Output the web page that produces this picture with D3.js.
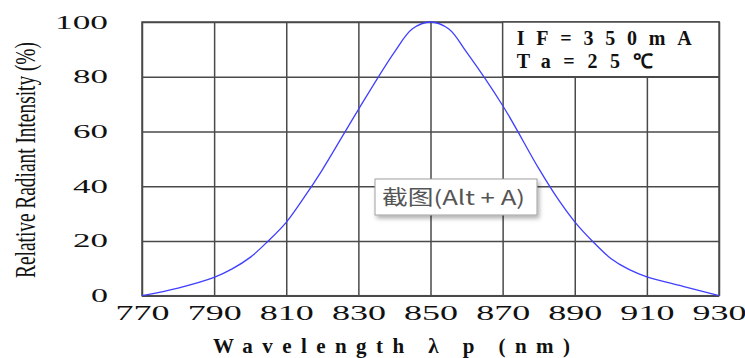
<!DOCTYPE html>
<html lang="en">
<head>
<meta charset="UTF-8">
<title>Relative Radiant Intensity</title>
<script src="https://d3js.org/d3.v7.min.js"></script>
<style>
    body { margin: 0; background: #fff; }
</style>
</head>
<body>
<div id="chart"></div>
<script>
    // wavelength (nm) and relative intensity (%)
    const wavelength = [770, 780, 790, 795, 800, 805, 810, 815, 820, 830, 840, 845, 850, 855, 860, 870, 880, 885, 890, 895, 900, 905, 910, 920, 930];
    const intensity = [0, 2.8, 6.7, 9.8, 14, 20, 26.8, 36, 46, 68, 89, 97.5, 100, 97.5, 89, 69.5, 46.5, 36, 27, 19.8, 13.6, 9.6, 6.9, 3.4, 0];
    const xTicks = [770, 790, 810, 830, 850, 870, 890, 910, 930];
    const yTicks = [0, 20, 40, 60, 80, 100];
    const noteLines = ["IF=350mA", "Ta=25℃"];
    const xTitle = "Wavelength λ p (nm)";
    const yTitle = "Relative Radiant Intensity (%)";
    const tipLabel = "截图(Alt + A)";

    const W = 745, H = 358;
    const margin = { top: 22, right: 26, bottom: 62.3, left: 142 };
    const width = W - margin.left - margin.right;
    const height = H - margin.top - margin.bottom;
    const gridColor = "#4a4a4a";
    const serif = "'Liberation Serif', 'Times New Roman', serif";

    const x = d3.scaleLinear().domain([770, 930]).range([0, width]);
    const y = d3.scaleLinear().domain([0, 100]).range([height, 0]);

    const root = d3.select("#chart").append("svg")
        .attr("width", W)
        .attr("height", H);

    const defs = root.append("defs");
    defs.append("filter").attr("id", "shadow")
        .attr("x", "-10%").attr("y", "-20%").attr("width", "130%").attr("height", "160%")
        .append("feDropShadow")
        .attr("dx", 2).attr("dy", 3).attr("stdDeviation", 2)
        .attr("flood-color", "#000").attr("flood-opacity", 0.3);

    const svg = root.append("g")
        .attr("transform", "translate(" + margin.left + "," + margin.top + ")");

    // grid lines come from the axes' ticks
    const xAxis = svg.append("g")
        .attr("transform", "translate(0," + height + ")")
        .call(d3.axisBottom(x).tickValues(xTicks).tickSize(-height).tickFormat(d3.format("d")));

    const yAxis = svg.append("g")
        .call(d3.axisLeft(y).tickValues(yTicks).tickSize(-width).tickFormat(d3.format("d")));

    [xAxis, yAxis].forEach(a => {
        a.select(".domain").remove();
        a.selectAll(".tick line").attr("stroke", gridColor).attr("stroke-width", 1.5);
        a.attr("font-family", serif).attr("fill", "#111");
    });

    xAxis.selectAll(".tick text")
        .attr("y", 24.3)
        .attr("dy", 0)
        .attr("fill", "#111")
        .attr("font-size", 21)
        .attr("textLength", d => String(d).length * 18)
        .attr("lengthAdjust", "spacingAndGlyphs");

    yAxis.selectAll(".tick text")
        .attr("x", -34)
        .attr("dy", 6)
        .attr("fill", "#111")
        .attr("font-size", 18)
        .attr("textLength", d => String(d).length * 18 - 1)
        .attr("lengthAdjust", "spacingAndGlyphs");

    // plot border
    svg.append("rect")
        .attr("width", width).attr("height", height)
        .attr("fill", "none")
        .attr("stroke", gridColor).attr("stroke-width", 1.5);

    // condition box over the top right cells (870-930, 80-100)
    svg.append("rect")
        .attr("x", x(870)).attr("y", y(100))
        .attr("width", x(930) - x(870)).attr("height", y(80) - y(100))
        .attr("fill", "#fff")
        .attr("stroke", gridColor).attr("stroke-width", 1.5);

    svg.append("g").selectAll("text")
        .data(noteLines)
        .join("text")
        .attr("x", x(870) + 14)
        .attr("y", (d, i) => y(100) + 23 + i * 23)
        .attr("font-family", serif)
        .attr("font-weight", "bold")
        .attr("font-size", 20)
        .attr("fill", "#111")
        .attr("textLength", (d, i) => i === 0 ? 175 : 136)
        .attr("lengthAdjust", "spacing")
        .text(d => d);

    // the curve
    const line = d3.line()
        .x((d, i) => x(wavelength[i]))
        .y(d => y(d))
        .curve(d3.curveCatmullRom.alpha(0.5));

    svg.append("path")
        .datum(intensity)
        .attr("fill", "none")
        .attr("stroke", "#3f3fff")
        .attr("stroke-width", 1.3)
        .attr("d", line);

    // axis titles
    root.append("text")
        .attr("x", 213)
        .attr("y", 353)
        .attr("font-family", serif)
        .attr("font-weight", "bold")
        .attr("font-size", 21)
        .attr("fill", "#111")
        .attr("textLength", 357)
        .attr("lengthAdjust", "spacing")
        .text(xTitle);

    // condensed, rotated y title: squeeze it to 236px along its run
    const yLab = root.append("text")
        .attr("text-anchor", "middle")
        .attr("font-family", serif)
        .attr("font-size", 29)
        .attr("fill", "#111")
        .text(yTitle);
    const squeeze = 236 / yLab.node().getComputedTextLength();
    yLab.attr("transform", "translate(35,160) rotate(-90) scale(" + squeeze + ",1)");

    // screenshot tooltip left on the picture
    const tip = root.append("g").attr("transform", "translate(375,179)");
    tip.append("rect")
        .attr("width", 162).attr("height", 36)
        .attr("fill", "#fff")
        .attr("stroke", "#a0a0a0")
        .attr("filter", "url(#shadow)");
    tip.append("text")
        .attr("x", 7)
        .attr("y", 26)
        .attr("font-family", "'Noto Sans CJK SC', sans-serif")
        .attr("font-size", 20)
        .attr("fill", "#555")
        .attr("textLength", 143)
        .attr("lengthAdjust", "spacingAndGlyphs")
        .text(tipLabel);
</script>
</body>
</html>
